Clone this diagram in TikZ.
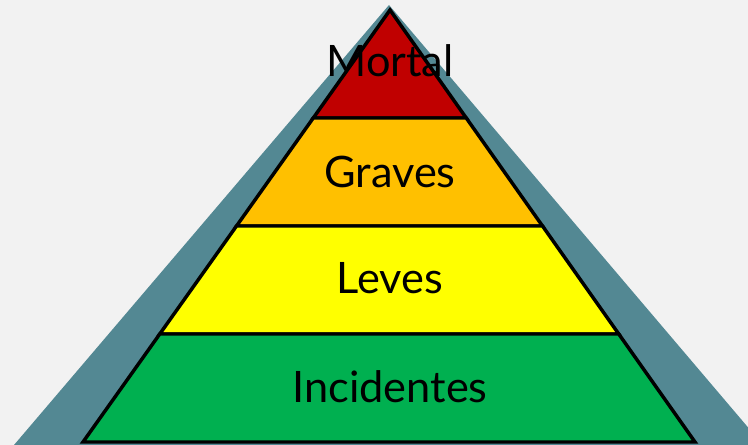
\documentclass[tikz,border=0pt]{standalone}
\usepackage{fontspec}
\setmainfont{Lato}
\usetikzlibrary{calc}
\definecolor{bgGray}{RGB}{242,242,242}
\definecolor{shadowTeal}{RGB}{83,136,147}
\definecolor{mortalRed}{RGB}{192,0,0}
\definecolor{gravesOrange}{RGB}{255,192,0}
\definecolor{levesYellow}{RGB}{255,255,0}
\definecolor{incGreen}{RGB}{0,176,80}

\begin{document}
\begin{tikzpicture}[x=0.75pt,y=0.75pt,yscale=-1,xscale=1,
    band/.style={draw=black,line width=2.6pt,line join=miter},
    lbl/.style={anchor=base,inner sep=0pt,font=\fontsize{32.5}{38}\selectfont}]
            \clip (0,0) rectangle (748,445);
            \fill [bgGray] (0,0) rectangle (748,445);
            % shadow behind the pyramid
            \fill [shadowTeal] (389,5) -- (14,445) -- (763,445) -- cycle;

            \coordinate (top) at (390,10);
            \coordinate (bl) at (83,442);
            \coordinate (br) at (695,442);

            \foreach \a/\b/\col in {0/0.25/mortalRed,0.25/0.5/gravesOrange,0.5/0.75/levesYellow,0.75/1/incGreen}
              \filldraw [band,fill=\col] ($(top)!\a!(bl)$) -- ($(top)!\b!(bl)$) -- ($(top)!\b!(br)$) -- ($(top)!\a!(br)$) -- cycle;

            \node [lbl] (mortal) at (390,77) {Mortal};
            \node [lbl] (graves) at (390,187) {Graves};
            \node [lbl] (leves) at (390,293) {Leves};
            \node [lbl] (incidentes) at (390,402) {Incidentes};
\end{tikzpicture}
\end{document}
